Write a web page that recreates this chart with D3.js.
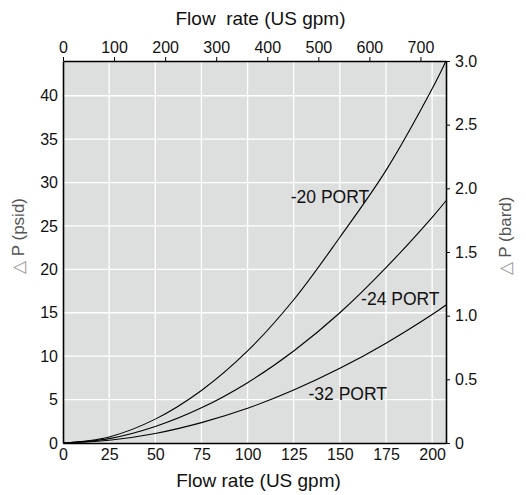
<!DOCTYPE html>
<html>
<head>
<meta charset="utf-8">
<script src="https://cdn.jsdelivr.net/npm/d3@7"></script>
<style>
  body { margin: 0; background: #fff; }
  svg { display: block; font-family: "Liberation Sans", Arial, sans-serif; }
  .axis path, .axis line { stroke: #000; }
  .axis text { fill: #111; }
</style>
</head>
<body>
<script>
// flow rate (US gpm) at which each curve was read
const flow = [0, 25, 50, 75, 100, 125, 150, 175, 200, 207.5];

// pressure drop (psid) for each port size
const port20 = [0, 0.7, 2.75, 6.05, 10.6, 16.5, 23.7, 31.4, 40.8, 44];
const port24 = [0, 0.5, 1.9, 4.05, 6.95, 10.6, 15.0, 20.2, 26.0, 27.9];
const port32 = [0, 0.32, 1.1, 2.35, 4.0, 6.1, 8.6, 11.5, 14.8, 15.9];

const seriesNames = ['-20 PORT', '-24 PORT', '-32 PORT'];
const seriesValues = [port20, port24, port32];

// label anchors in data units (gpm, psid)
const labelAt = [[123.4, 27.7], [161.5, 15.9], [133, 4.9]];

const bottomTicks = [0, 25, 50, 75, 100, 125, 150, 175, 200];
const topTicks = [0, 100, 200, 300, 400, 500, 600, 700];
const leftTicks = [0, 5, 10, 15, 20, 25, 30, 35, 40];
const rightTicks = [0, 0.5, 1.0, 1.5, 2.0, 2.5, 3.0];

const width = 526;
const height = 495;
const margin = { top: 61, right: 80, bottom: 52, left: 63 };
const innerWidth = width - margin.left - margin.right;
const innerHeight = height - margin.top - margin.bottom;
const fontFamily = '"Liberation Sans", Arial, sans-serif';

const svg = d3.select('body')
  .append('svg')
  .attr('width', width)
  .attr('height', height);

const chart = svg.append('g')
  .attr('transform', `translate(${margin.left}, ${margin.top})`);

const xScale = d3.scaleLinear().domain([0, 207.5]).range([0, innerWidth]);
const xTopScale = d3.scaleLinear().domain([0, 750]).range([0, innerWidth]);
const yScale = d3.scaleLinear().domain([0, 44]).range([innerHeight, 0]);
const yRightScale = d3.scaleLinear().domain([0, 3]).range([innerHeight, 0]);

chart.append('rect')
  .attr('width', innerWidth)
  .attr('height', innerHeight)
  .attr('fill', '#dddede');

// grid
chart.append('g').selectAll('line')
  .data(bottomTicks.filter(d => d > 0))
  .enter().append('line')
  .attr('x1', d => xScale(d)).attr('x2', d => xScale(d))
  .attr('y1', 0).attr('y2', innerHeight)
  .attr('stroke', '#fff').attr('stroke-width', 1.3);

chart.append('g').selectAll('line')
  .data(leftTicks.filter(d => d > 0))
  .enter().append('line')
  .attr('x1', 0).attr('x2', innerWidth)
  .attr('y1', d => yScale(d)).attr('y2', d => yScale(d))
  .attr('stroke', '#fff').attr('stroke-width', 1.3);

// curves
const line = d3.line()
  .x((d, i) => xScale(flow[i]))
  .y(d => yScale(d))
  .curve(d3.curveCatmullRom);

chart.selectAll('path.curve')
  .data(seriesValues)
  .enter().append('path')
  .attr('class', 'curve')
  .attr('d', line)
  .attr('fill', 'none')
  .attr('stroke', '#000')
  .attr('stroke-width', 1.1);

chart.selectAll('text.port')
  .data(seriesNames)
  .enter().append('text')
  .attr('class', 'port')
  .attr('x', (d, i) => xScale(labelAt[i][0]))
  .attr('y', (d, i) => yScale(labelAt[i][1]))
  .attr('font-size', 17.5)
  .attr('fill', '#111')
  .text(d => d);

// axes
const styleAxis = g => g.attr('font-size', 16).attr('font-family', fontFamily);

chart.append('g')
  .attr('class', 'axis')
  .attr('transform', `translate(0, ${innerHeight})`)
  .call(d3.axisBottom(xScale).tickValues(bottomTicks).tickSize(0).tickPadding(6).tickSizeOuter(0))
  .call(styleAxis);

chart.append('g')
  .attr('class', 'axis')
  .call(d3.axisTop(xTopScale).tickValues(topTicks).tickSize(4).tickPadding(4).tickSizeOuter(0))
  .call(styleAxis);

chart.append('g')
  .attr('class', 'axis')
  .call(d3.axisLeft(yScale).tickValues(leftTicks).tickSize(0).tickPadding(5).tickSizeOuter(0))
  .call(styleAxis);

chart.append('g')
  .attr('class', 'axis')
  .attr('transform', `translate(${innerWidth}, 0)`)
  .call(d3.axisRight(yRightScale).tickValues(rightTicks)
    .tickFormat(d => d === 0 ? '0' : d3.format('.1f')(d))
    .tickSize(4).tickPadding(5).tickSizeOuter(0))
  .call(styleAxis);

chart.selectAll('.axis .domain').attr('stroke-width', 1.6);

// titles
chart.append('text')
  .attr('x', innerWidth / 2 + 4)
  .attr('y', height - margin.top - 8)
  .attr('text-anchor', 'middle')
  .attr('font-size', 19)
  .attr('fill', '#111')
  .text('Flow rate (US gpm)');

chart.append('text')
  .attr('x', innerWidth / 2 + 6)
  .attr('y', -36)
  .attr('text-anchor', 'middle')
  .attr('font-size', 19)
  .attr('fill', '#111')
  .style('white-space', 'pre')
  .text('Flow  rate (US gpm)');

const yLabel = (x, text) => {
  const t = chart.append('text')
    .attr('transform', `translate(${x}, ${innerHeight / 2 - 16}) rotate(-90)`)
    .attr('text-anchor', 'middle')
    .attr('font-size', 17)
    .attr('fill', '#555');
  t.append('tspan').attr('fill', '#999').text('\u25B3 ');
  t.append('tspan').text(text);
};
yLabel(-39, 'P (psid)');
yLabel(innerWidth + 65, 'P (bard)');
</script>
</body>
</html>
